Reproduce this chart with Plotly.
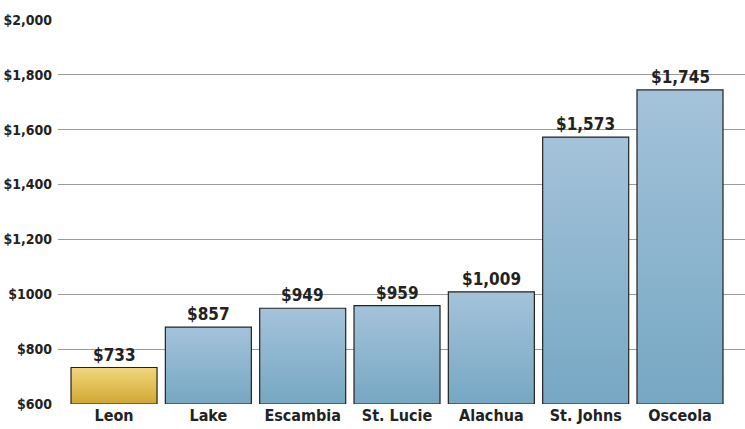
import plotly.graph_objects as go

counties = ["Leon", "Lake", "Escambia", "St. Lucie", "Alachua", "St. Johns", "Osceola"]
bar_heights = [733, 880, 949, 959, 1009, 1573, 1745]
value_labels = ["$733", "$857", "$949", "$959", "$1,009", "$1,573", "$1,745"]
highlight = ["Leon"]
y_ticks = [600, 800, 1000, 1200, 1400, 1600, 1800, 2000]
y_tick_text = ["$600", "$800", "$1000", "$1,200", "$1,400", "$1,600", "$1,800", "$2,000"]

BASE = 600
HALF = 0.456
FONT = "DejaVu Sans Condensed, Liberation Sans Narrow, sans-serif"

fig = go.Figure()

for i, (name, h) in enumerate(zip(counties, bar_heights)):
    if name in highlight:
        cs = [[0, "#d1a733"], [1, "#f3d77c"]]
    else:
        cs = [[0, "#76a7c3"], [1, "#a4c3da"]]
    fig.add_trace(go.Scatter(
        x=[i - HALF, i + HALF, i + HALF, i - HALF, i - HALF],
        y=[BASE, BASE, h, h, BASE],
        mode="lines",
        fill="toself",
        fillgradient=dict(type="vertical", colorscale=cs),
        line=dict(color="#222222", width=1.2),
        hoverinfo="skip",
        showlegend=False,
    ))

for i, (h, lbl) in enumerate(zip(bar_heights, value_labels)):
    fig.add_annotation(
        x=i, y=h, text=lbl, showarrow=False,
        xanchor="center", yanchor="bottom", yshift=1,
        font=dict(family=FONT, size=17, color="#222222", weight="bold"),
    )

fig.update_layout(
    width=745, height=429,
    margin=dict(l=58, r=0, t=20, b=25),
    paper_bgcolor="white",
    plot_bgcolor="white",
    xaxis=dict(
        range=[-0.594, 6.689],
        tickvals=list(range(len(counties))),
        ticktext=counties,
        showgrid=False,
        zeroline=False,
        showline=False,
        ticks="",
        tickfont=dict(family=FONT, size=16, color="#222222", weight="bold"),
        fixedrange=True,
    ),
    yaxis=dict(
        range=[600, 2000],
        tickvals=y_ticks,
        ticktext=y_tick_text,
        showgrid=True,
        gridcolor="#9a9a9a",
        gridwidth=1.3,
        zeroline=False,
        showline=False,
        ticks="",
        ticklabelstandoff=5,
        tickfont=dict(family=FONT, size=14, color="#222222", weight="bold"),
        fixedrange=True,
    ),
)

fig.write_html(
    "out.html",
    config={"displayModeBar": False},
    post_script="document.body.style.margin='0';document.body.style.overflow='hidden';",
)
